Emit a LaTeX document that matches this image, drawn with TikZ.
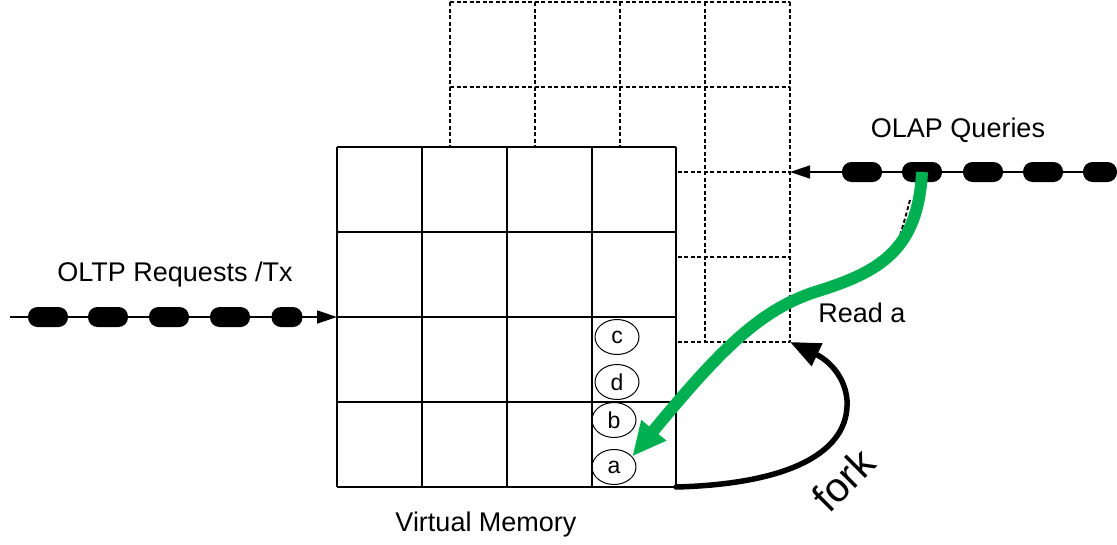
\documentclass[tikz,border=0pt]{standalone}
\usepackage{fontspec}
\setmainfont{Liberation Sans}
\usetikzlibrary{arrows.meta,shapes.geometric}
\definecolor{readgreen}{HTML}{00B050}
\tikzset{
  dashgrid/.style={line width=1.9pt, dash pattern=on 4pt off 2.5pt},
  solidgrid/.style={line width=2pt},
  blob/.style={fill=black, rounded corners=9.5pt, minimum width=40pt, minimum height=20pt, inner sep=0pt},
  lbl/.style={font=\fontsize{27}{30}\selectfont, inner sep=0pt},
  token/.style={draw, line width=1pt, ellipse, minimum width=44pt, minimum height=35pt, inner sep=0pt, font=\fontsize{23}{24}\selectfont},
  streamline/.style={line width=1.5pt, -{Triangle[length=20pt,width=13pt]}}
}
\begin{document}
\begin{tikzpicture}[x=1pt,y=-1pt]
\useasboundingbox (0,0) rectangle (1117,544);
% snapshot (dashed) grid
\foreach \x in {450,535,620,705,790} \draw[dashgrid] (\x,2) -- (\x,342);
\foreach \y in {2,87,172,257,342} \draw[dashgrid] (450,\y) -- (790,\y);
\coordinate (snap-e) at (790,172);
\coordinate (snap-se) at (790,342);
% virtual memory (solid) grid
\fill[white] (337,147) rectangle (676,487);
\foreach \x in {337,422,507,592,676} \draw[solidgrid] (\x,147) -- (\x,487);
\foreach \y in {147,232,317,402,487} \draw[solidgrid] (337,\y) -- (676,\y);
\coordinate (vm-w) at (337,317);
\coordinate (vm-se) at (676,487);
% tokens
\node[token] (c) at (617,337) {c};
\node[token] (d) at (617,382) {d};
\node[token] (b) at (614,420) {b};
\node[token] (a) at (614,467) {a};
% OLTP stream
\coordinate (oltp-start) at (10,317);
\draw[streamline] (oltp-start) -- (vm-w);
\foreach \i/\x/\w in {1/48/40,2/108/40,3/169/40,4/230/40,5/287/31}
  \node[blob, minimum width=\w pt] (t\i) at (\x,317) {};
% OLAP stream
\coordinate (olap-start) at (1117,172);
\draw[streamline] (olap-start) -- (snap-e);
\foreach \i/\x/\w in {1/862/40,2/922/40,3/983/40,4/1043/40,5/1100/34}
  \node[blob, minimum width=\w pt] (q\i) at (\x,172) {};
% labels
\node[lbl] (olaplbl) at (958,130) {OLAP Queries};
\node[lbl] (oltplbl) at (175,275) {OLTP Requests /Tx};
\node[lbl] (readlbl) at (862,313) {Read a};
\node[lbl] (vmlbl) at (486,525) {Virtual Memory};
\node[rotate=45, inner sep=0pt, font=\fontsize{41}{41}\selectfont] (forklbl) at (843,480) {fork};
% fork arrow
\draw[line width=5.5pt, line cap=round, -{Triangle[length=30pt,width=24pt]}]
  (vm-se) .. controls (790,484) and (850,452) .. (847,400)
  .. controls (845,376) and (828,360) .. (snap-se);
% faint dashed trace under read arrow
\draw[dashgrid] (910,200) .. controls (906,215) .. (900,236);
% read arrow
\draw[readgreen, line width=12pt, -{Triangle[length=34pt,width=30pt]}]
  (q2.center) .. controls (918,250) and (880,272) .. (815,292)
  .. controls (760,310) and (720,350) .. (a.30);
\end{tikzpicture}
\end{document}
